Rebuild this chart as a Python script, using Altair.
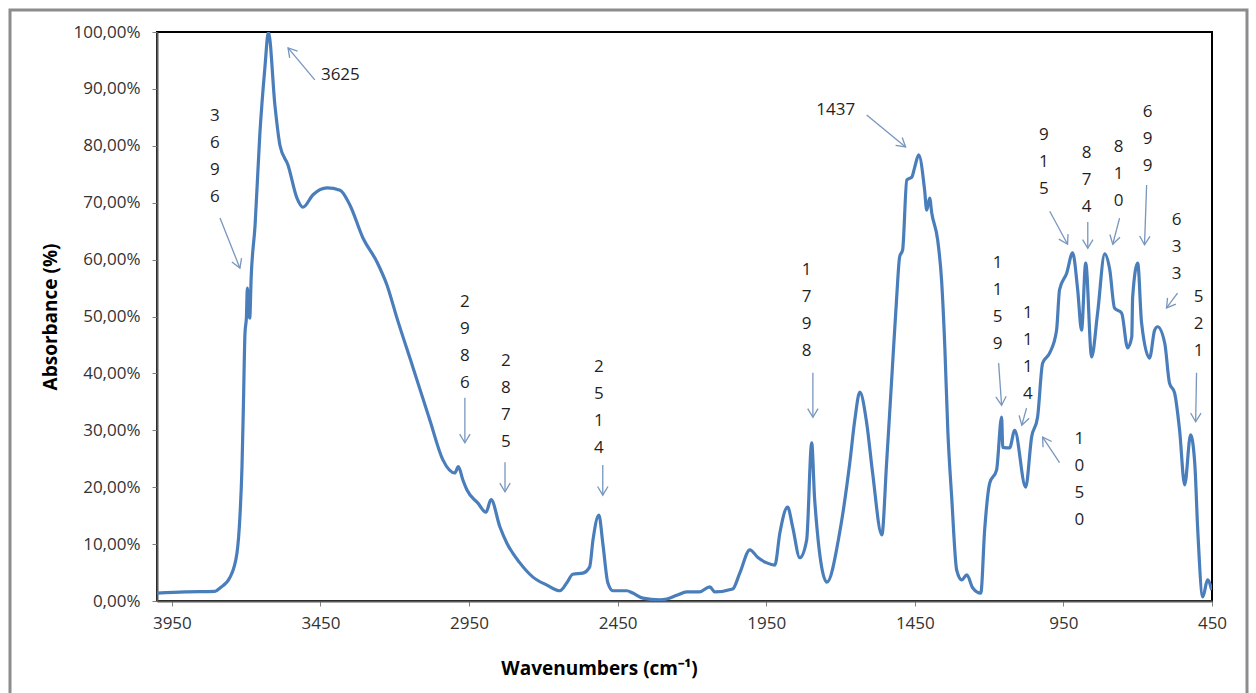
import math
import altair as alt
import pandas as pd

# ---- spectrum (wavenumber cm-1, absorbance %) ----
wavenumbers = [
    4000, 3906, 3805, 3788, 3754, 3731, 3721, 3714, 3709, 3704,
    3699, 3696, 3692, 3688, 3683, 3670, 3654, 3637, 3625, 3603,
    3586, 3559, 3529, 3509, 3475, 3428, 3384, 3351, 3307, 3260,
    3226, 3193, 3139, 3082, 3038, 2998, 2986, 2971, 2957, 2920,
    2893, 2876, 2846, 2823, 2779, 2735, 2688, 2644, 2621, 2601,
    2567, 2544, 2533, 2513, 2500, 2483, 2466, 2419, 2399, 2365,
    2308, 2285, 2251, 2217, 2174, 2140, 2123, 2063, 2039, 2005,
    1979, 1948, 1921, 1904, 1878, 1861, 1837, 1814, 1797, 1787,
    1746, 1703, 1669, 1652, 1635, 1612, 1592, 1561, 1545, 1528,
    1511, 1501, 1491, 1477, 1460, 1450, 1437, 1417, 1410, 1400,
    1393, 1373, 1360, 1349, 1339, 1326, 1309, 1292, 1275, 1255,
    1228, 1215, 1198, 1175, 1158, 1154, 1131, 1114, 1077, 1057,
    1037, 1020, 996, 973, 963, 939, 919, 902, 889, 875,
    855, 835, 811, 794, 778, 754, 734, 720, 717, 700,
    687, 660, 643, 633, 609, 593, 576, 559, 542, 522,
    508, 498, 481, 465, 451,
]
absorbance = [
    1.4, 1.6, 1.7, 2.3, 4.2, 8.4, 14.8, 23.6, 35.0, 47.0,
    50.0, 55.0, 51.0, 49.7, 57.0, 66.0, 82.0, 93.7, 100.0, 87.0,
    80.0, 76.6, 70.8, 69.2, 71.4, 72.6, 72.2, 69.6, 63.8, 59.6,
    55.5, 49.8, 41.1, 31.8, 24.8, 22.5, 23.6, 21.3, 19.5, 17.2,
    15.6, 17.8, 13.0, 10.2, 6.7, 4.2, 2.8, 1.8, 3.2, 4.7,
    4.9, 6.0, 10.7, 15.1, 10.2, 3.2, 1.8, 1.8, 1.4, 0.5,
    0.2, 0.35, 1.0, 1.6, 1.6, 2.5, 1.6, 2.1, 4.9, 9.0,
    7.7, 6.7, 6.3, 12.0, 16.5, 13.0, 7.6, 10.7, 27.8, 17.8,
    3.3, 12.0, 24.2, 31.8, 36.7, 31.3, 22.5, 11.6, 24.2, 38.8,
    53.4, 60.5, 61.7, 74.0, 74.5, 76.3, 78.4, 72.2, 68.7, 70.8,
    68.2, 63.4, 56.4, 44.6, 30.0, 18.3, 5.4, 3.7, 4.6, 2.3,
    1.4, 12.5, 20.7, 23.0, 32.3, 27.0, 26.9, 30.0, 20.0, 28.8,
    32.3, 41.8, 43.6, 47.6, 54.7, 57.6, 61.2, 54.7, 47.6, 59.4,
    42.9, 50.6, 61.0, 58.2, 51.5, 50.6, 44.5, 46.4, 53.4, 59.4,
    48.9, 42.7, 47.6, 48.2, 45.3, 38.3, 36.6, 30.0, 20.4, 29.2,
    24.2, 12.5, 0.7, 3.7, 1.9,
]
assert len(wavenumbers) == len(absorbance)

# ---- peak annotations ----
ann_labels = ["3625", "3696", "2986", "2875", "2514", "1798", "1437", "1159",
              "1114", "1050", "915", "874", "810", "699", "633", "521"]
ann_stacked = [False, True, True, True, True, True, False, True,
               True, True, True, True, True, True, True, True]
# position of the (first line of the) label
ann_text_wn = [3383, 3805, 2964, 2826, 2513, 1814, 1716, 1171,
               1070, 896, 1016, 872, 764, 667, 569, 495]
ann_text_abs = [92.4, 85.2, 52.5, 42.2, 41.1, 58.2, 86.3, 59.4,
                50.6, 28.5, 81.9, 78.7, 79.8, 85.9, 67.0, 53.4]
arrow_tail_wn = [3469, 3788, 2964, 2829, 2500, 1793, 1612, 1168,
                 1074, 963, 996, 868, 761, 670, 566, 502]
arrow_tail_abs = [91.6, 67.3, 35.7, 24.4, 23.9, 40.1, 85.4, 41.8,
                  33.9, 24.3, 68.5, 66.6, 67.3, 73.1, 54.1, 40.1]
arrow_tip_wn = [3559, 3721, 2964, 2829, 2500, 1793, 1481, 1158,
                1090, 1020, 936, 868, 784, 677, 603, 505]
arrow_tip_abs = [97.2, 58.5, 27.8, 19.2, 18.6, 32.3, 79.8, 34.4,
                 30.9, 28.8, 62.7, 62.0, 62.7, 62.6, 51.5, 31.5]

x_ticks = [3950, 3450, 2950, 2450, 1950, 1450, 950, 450]
y_ticks = [0, 10, 20, 30, 40, 50, 60, 70, 80, 90, 100]

# ---- layout ----
PLOT_W, PLOT_H = 1055, 569
X_DOMAIN = [450, 4000]
Y_DOMAIN = [0, 100]
px_per_wn = PLOT_W / (X_DOMAIN[1] - X_DOMAIN[0])
px_per_pct = PLOT_H / (Y_DOMAIN[1] - Y_DOMAIN[0])

spec = pd.DataFrame({"wn": wavenumbers, "abs": absorbance})

angles = []
for tw, ta, hw, ha in zip(arrow_tail_wn, arrow_tail_abs, arrow_tip_wn, arrow_tip_abs):
    dx = -(hw - tw) * px_per_wn   # reversed x scale
    dy = -(ha - ta) * px_per_pct  # screen y grows downward
    angles.append(math.degrees(math.atan2(-dx, dy)) % 360)

ann = pd.DataFrame({
    "label": [("\n".join(l) if s else l) for l, s in zip(ann_labels, ann_stacked)],
    "twn": ann_text_wn, "tabs": ann_text_abs,
    "awn": arrow_tail_wn, "aabs": arrow_tail_abs,
    "hwn": arrow_tip_wn, "habs": arrow_tip_abs,
    "ang": angles,
})

xscale = alt.Scale(domain=X_DOMAIN, reverse=True, nice=False, zero=False)
yscale = alt.Scale(domain=Y_DOMAIN, nice=False, zero=False)

xaxis = alt.Axis(values=x_ticks, format="d", title="Wavenumbers (cm⁻¹)",
                 grid=False, tickSize=5, labelPadding=9, labelFlush=False,
                 titleX=442, titleY=67, titleBaseline="middle", titleAlign="center")
yaxis = alt.Axis(values=y_ticks, grid=False, tickSize=5, labelPadding=12,
                 labelFlush=False,
                 labelExpr="replace(format(datum.value, '.2f'), '.', ',') + '%'",
                 title="Absorbance (%)", titleX=-107, titleY=PLOT_H / 2,
                 titleAngle=270, titleBaseline="middle", titleAlign="center")

FONT = "Open Sans"
ARROW = "#7896bd"

line = alt.Chart(spec).mark_line(
    color="#4a7ebb", strokeWidth=3.2, clip=True, interpolate="monotone"
).encode(
    x=alt.X("wn:Q", scale=xscale, axis=xaxis),
    y=alt.Y("abs:Q", scale=yscale, axis=yaxis),
)

shafts = alt.Chart(ann).mark_rule(color=ARROW, strokeWidth=1.3).encode(
    x=alt.X("awn:Q", scale=xscale, axis=xaxis),
    y=alt.Y("aabs:Q", scale=yscale, axis=yaxis),
    x2="hwn:Q", y2="habs:Q",
)

heads = alt.Chart(ann).mark_point(
    shape="M-0.6,-1L0,0L0.6,-1", filled=False, size=300,
    stroke=ARROW, strokeWidth=1.3, opacity=1,
).encode(
    x=alt.X("hwn:Q", scale=xscale, axis=xaxis),
    y=alt.Y("habs:Q", scale=yscale, axis=yaxis),
    angle=alt.Angle("ang:Q", scale=None),
)

texts = alt.Chart(ann).mark_text(
    font=FONT, fontSize=17, lineBreak="\n", lineHeight=27,
    baseline="middle", align="center", color="#1f1f1f",
).encode(
    x=alt.X("twn:Q", scale=xscale, axis=xaxis),
    y=alt.Y("tabs:Q", scale=yscale, axis=yaxis),
    text="label:N",
)

frame = alt.Chart(pd.DataFrame({"k": [0]})).mark_rect(
    fillOpacity=0, stroke="#8c8c8c", strokeWidth=3,
).encode(
    x=alt.value(-147), x2=alt.value(1090), y=alt.value(-22), y2=alt.value(700),
)

chart = alt.layer(line, shafts, heads, texts, frame).properties(
    width=PLOT_W, height=PLOT_H,
    autosize=alt.AutoSizeParams(type="none"),
    padding={"left": 157, "top": 32, "right": 44, "bottom": 92},
    background="white",
).configure_view(
    stroke="black", strokeWidth=2,
).configure_axis(
    domainColor="#595959", domainWidth=2, tickColor="#808080", tickWidth=1,
    labelColor="#333333", labelFont=FONT, labelFontSize=17,
    titleFont=FONT, titleFontSize=19, titleFontWeight="bold", titleColor="black",
)

chart.save("out.html", embed_options={"renderer": "svg", "actions": False})
